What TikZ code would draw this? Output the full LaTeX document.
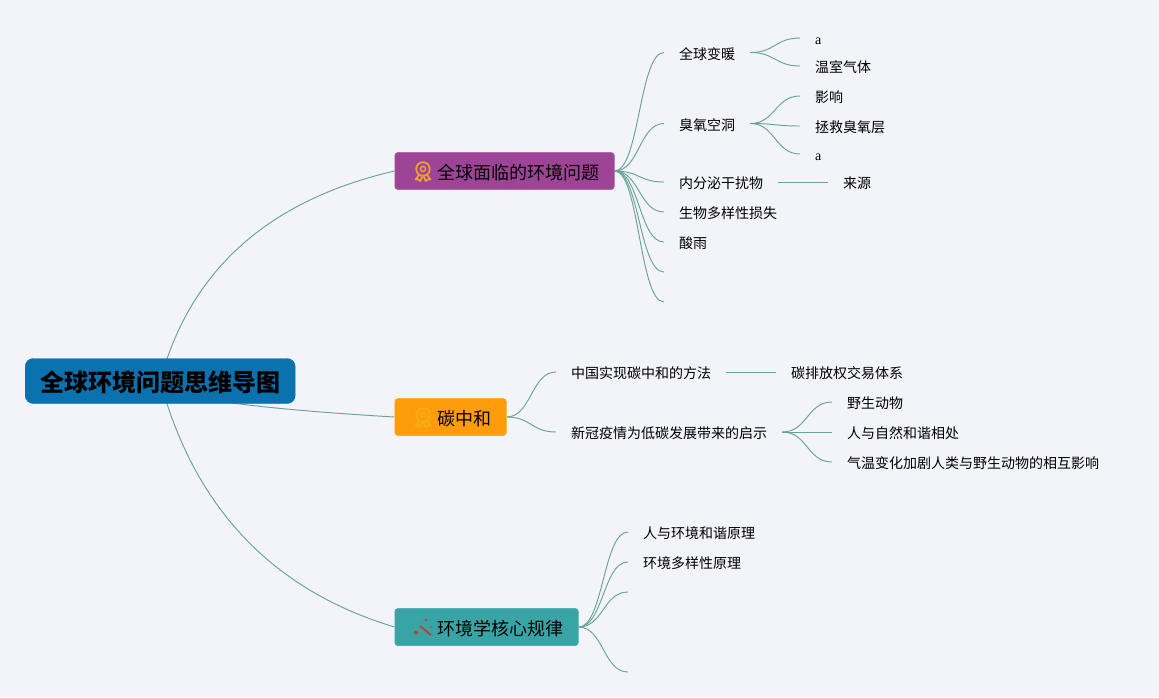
\documentclass[tikz,border=0pt]{standalone}
\usepackage{fontspec}
\usetikzlibrary{backgrounds,calc}
\newfontfamily\cjk{Noto Sans CJK SC}
\newfontfamily\latinserif{Liberation Serif}
\definecolor{bgc}{HTML}{F3F3FA}
\definecolor{linkc}{HTML}{68A498}
\definecolor{rootc}{HTML}{0A72AE}
\definecolor{purplec}{HTML}{9E4497}
\definecolor{orangec}{HTML}{FF9C0C}
\definecolor{tealc}{HTML}{38A4A6}
\definecolor{medalA}{HTML}{EFA02E}
\definecolor{medalB}{HTML}{F7AE12}
\definecolor{wandc}{HTML}{C0402F}
\tikzset{
  link/.style={draw=linkc,line width=0.95pt},
  leaf/.style={anchor=west,inner xsep=15pt,inner ysep=0pt,text=black,text height=14pt,text depth=1pt,font=\fontsize{14}{14}\selectfont\cjk},
  leaflat/.style={leaf,font=\fontsize{14}{14}\selectfont\latinserif},
  branch/.style={anchor=west,rounded corners=3pt,inner xsep=15pt,inner ysep=0pt,minimum height=37pt,line width=0.6pt,text=black,text height=17pt,text depth=1pt,font=\fontsize{18}{18}\selectfont\cjk},
  rootbox/.style={anchor=west,rounded corners=8pt,inner xsep=15pt,inner ysep=0pt,minimum height=45pt,fill=rootc,draw=rootc,text=black,text height=22pt,text depth=2pt,font=\fontsize{24}{24}\selectfont\cjk\bfseries},
  medal/.pic={
    \draw[line width=1.8pt,draw=#1] (0,0) circle (6.8);
    \draw[line width=1.5pt,draw=#1] (0,0) circle (2.6);
    \draw[line width=1.7pt,draw=#1,line join=round] (-4,6) -- (-7.5,10.5) -- (-4.6,10.5) -- (-2.8,12.2) -- (-0.6,7.4);
    \draw[line width=1.7pt,draw=#1,line join=round] (4,6) -- (7.5,10.5) -- (4.6,10.5) -- (2.8,12.2) -- (0.6,7.4);
  },
  wand/.pic={
    \draw[line width=1.8pt,draw=wandc] (-7,-2) -- (4,7);
    \fill[wandc] (-11,4.5) circle (2.1);
    \fill[wandc] (-1,-8) circle (1.5);
    \fill[wandc] (4,-1) circle (0.8);
    \fill[wandc] (-5,-6) circle (0.7);
  }
}
\newcommand{\conn}[2]{\path[link] let \p1=(#1), \p2=(#2), \n1={0.5*\x1+0.5*\x2} in (\p1) .. controls (\n1,\y1) and (\n1,\y2) .. (\p2);}
\begin{document}
\begin{tikzpicture}[x=1pt,y=-1pt]
\useasboundingbox (0,0) rectangle (1159,697);
% main nodes
\node[rootbox] (root) at (25,381) {全球环境问题思维导图};
\node[branch,fill=purplec,draw=purplec!80!white] (b1) at (394.5,171) {\hspace{27.5pt}全球面临的环境问题};
\node[branch,fill=orangec,draw=orangec!85!white] (b2) at (394.5,417) {\hspace{27.5pt}碳中和};
\node[branch,fill=tealc,draw=tealc!85!white] (b3) at (394.5,627) {\hspace{27.5pt}环境学核心规律};
\pic at (423,169) {medal=medalA};
\pic at (423,415) {medal=medalB};
\pic at (427,628) {wand};
% branch 1
\node[leaf] (warm) at (664,52.5) {全球变暖};
\node[leaflat] (wa) at (800,38) {a};
\node[leaf] (ghg) at (800,66) {温室气体};
\node[leaf] (ozone) at (664,123.5) {臭氧空洞};
\node[leaf] (eff) at (800,96) {影响};
\node[leaf] (save) at (800,126) {拯救臭氧层};
\node[leaflat] (oa) at (800,154) {a};
\node[leaf] (edc) at (664,182) {内分泌干扰物};
\node[leaf] (src) at (828,182) {来源};
\node[leaf] (bio) at (664,212) {生物多样性损失};
\node[leaf] (acid) at (664,242) {酸雨};
\coordinate (e1) at (664,272);
\coordinate (e2) at (664,302);
% branch 2
\node[leaf] (cn) at (556,372) {中国实现碳中和的方法};
\node[leaf] (ets) at (776,372) {碳排放权交易体系};
\node[leaf] (cov) at (556,432) {新冠疫情为低碳发展带来的启示};
\node[leaf] (wild) at (832,402) {野生动物};
\node[leaf] (harm) at (832,432) {人与自然和谐相处};
\node[leaf] (clim) at (832,462) {气温变化加剧人类与野生动物的相互影响};
% branch 3
\node[leaf] (p1) at (628,532) {人与环境和谐原理};
\node[leaf] (p2) at (628,562) {环境多样性原理};
\coordinate (e3) at (628,592);
\coordinate (e4) at (628,672);
\begin{scope}[on background layer]
\fill[bgc] (0,0) rectangle (1159,697);
\path[link] (root.center) .. controls (190,270.3) and (268,200.3) .. (b1.west);
\path[link] (root.center) .. controls (160,395.7) and (238,407.7) .. (b2.west);
\path[link] (root.center) .. controls (194.7,508.3) and (272.7,590.3) .. (b3.west);
\foreach \t in {warm,ozone,edc,bio,acid}{\conn{b1.east}{\t.west}}
\conn{b1.east}{e1}
\conn{b1.east}{e2}
\conn{warm.east}{wa.west}
\conn{warm.east}{ghg.west}
\conn{ozone.east}{eff.west}
\conn{ozone.east}{save.west}
\conn{ozone.east}{oa.west}
\path[link] (edc.east) -- (src.west);
\conn{b2.east}{cn.west}
\conn{b2.east}{cov.west}
\path[link] (cn.east) -- (ets.west);
\conn{cov.east}{wild.west}
\conn{cov.east}{harm.west}
\conn{cov.east}{clim.west}
\conn{b3.east}{p1.west}
\conn{b3.east}{p2.west}
\conn{b3.east}{e3}
\conn{b3.east}{e4}
\end{scope}
\end{tikzpicture}
\end{document}
